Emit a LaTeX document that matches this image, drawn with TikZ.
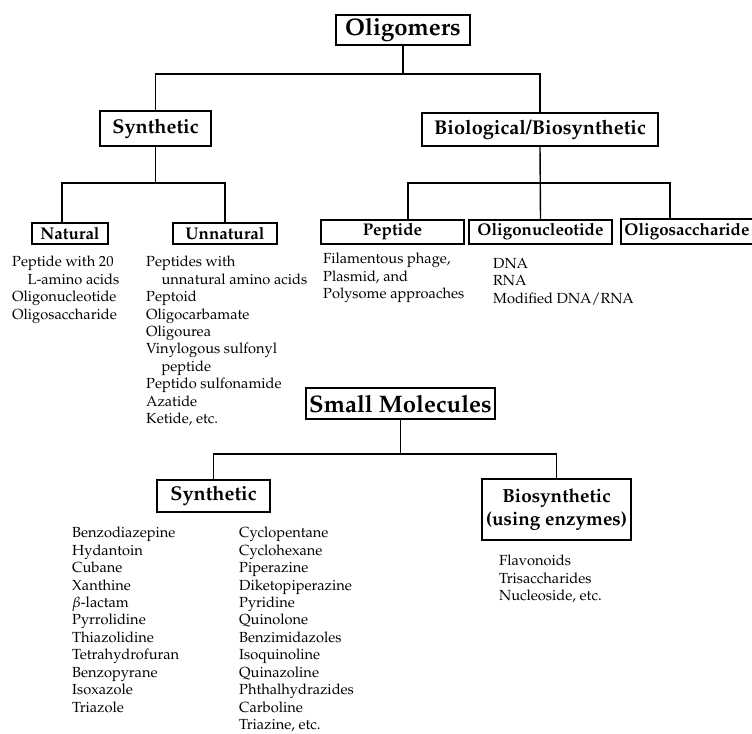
\documentclass[tikz,border=0pt]{standalone}
\usepackage[T1]{fontenc}
\usepackage{mathpazo}
\begin{document}
\begin{tikzpicture}[x=1bp,y=-1bp,
  box/.style={draw,line width=1.4bp,inner sep=0pt,align=center,font=\bfseries},
  big/.style={font=\fontsize{24}{26}\selectfont\bfseries},
  mid/.style={font=\fontsize{20}{22}\selectfont\bfseries},
  sml/.style={font=\fontsize{17}{19}\selectfont\bfseries},
  lst/.style={anchor=north west,inner sep=0pt,align=left,font=\fontsize{14.7}{17.5}\selectfont},
  conn/.style={line width=1.4bp}]
\useasboundingbox (0,0) rectangle (752,734);
% boxes
\node[box,big,minimum width=134bp,minimum height=30bp] (oli) at (403,30) {Oligomers};
\node[box,mid,minimum width=111bp,minimum height=35bp] (syn) at (155.5,128.5) {Synthetic};
\node[box,mid,minimum width=236bp,minimum height=33bp] (bio) at (540,129.5) {Biological/Biosynthetic};
\node[box,sml,minimum width=76bp,minimum height=21bp] (nat) at (70,233.5) {Natural};
\node[box,sml,minimum width=104bp,minimum height=21bp] (unn) at (225,233.5) {Unnatural};
\node[box,sml,minimum width=143bp,minimum height=24bp] (pep) at (392.5,232) {Peptide};
\node[box,sml,minimum width=143bp,minimum height=24bp] (onu) at (540.5,232) {Oligonucleotide};
\node[box,sml,minimum width=132bp,minimum height=25bp] (osa) at (687,231.5) {Oligosaccharide};
\node[box,big,minimum width=189bp,minimum height=31bp] (sm) at (400.5,403.5) {Small Molecules};
\node[box,mid,minimum width=113bp,minimum height=32bp] (syn2) at (213.5,496) {Synthetic};
\node[box,font=\fontsize{19}{23}\selectfont\bfseries,minimum width=149bp,minimum height=61bp] (bio2) at (556.5,509.5) {Biosynthetic\\(using enzymes)};
% connectors
\draw[conn] (oli.south) -- (oli.south |- 0,74);
\draw[conn] (syn.north) -- (syn.north |- 0,74) -- (bio.north |- 0,74) -- (bio.north);
\draw[conn] (syn.south) -- (syn.south |- 0,183);
\draw[conn] ([xshift=-8bp]nat.north) -- ([xshift=-8bp]nat.north |- 0,183) -- (unn.north |- 0,183) -- (unn.north);
\draw[conn] (bio.south) -- (onu.north);
\draw[conn] ([xshift=15.5bp]pep.north) -- ([xshift=15.5bp]pep.north |- 0,183) -- ([xshift=-17bp]osa.north |- 0,183) -- ([xshift=-17bp]osa.north);
\draw[conn] (sm.south) -- (sm.south |- 0,454);
\draw[conn] (syn2.north) -- (syn2.north |- 0,454) -- (bio2.north |- 0,454) -- (bio2.north);
% lists
\node[lst] (natl) at (12,256) {Peptide with 20\\\hspace*{1.05em}L-amino acids\\Oligonucleotide\\Oligosaccharide};
\node[lst] (unnl) at (146,256) {Peptides with\\\hspace*{1.05em}unnatural amino acids\\Peptoid\\Oligocarbamate\\Oligourea\\Vinylogous sulfonyl\\\hspace*{1.05em}peptide\\Peptido sulfonamide\\Azatide\\Ketide, etc.};
\node[lst] (pepl) at (323,253) {Filamentous phage,\\Plasmid, and\\Polysome approaches};
\node[lst] (onul) at (493,258) {DNA\\RNA\\Modified DNA/RNA};
\node[lst] (syl1) at (72,527) {Benzodiazepine\\Hydantoin\\Cubane\\Xanthine\\$\beta$-lactam\\Pyrrolidine\\Thiazolidine\\Tetrahydrofuran\\Benzopyrane\\Isoxazole\\Triazole};
\node[lst] (syl2) at (239,527) {Cyclopentane\\Cyclohexane\\Piperazine\\Diketopiperazine\\Pyridine\\Quinolone\\Benzimidazoles\\Isoquinoline\\Quinazoline\\Phthalhydrazides\\Carboline\\Triazine, etc.};
\node[lst] (biol) at (499,555) {Flavonoids\\Trisaccharides\\Nucleoside, etc.};
\end{tikzpicture}
\end{document}
